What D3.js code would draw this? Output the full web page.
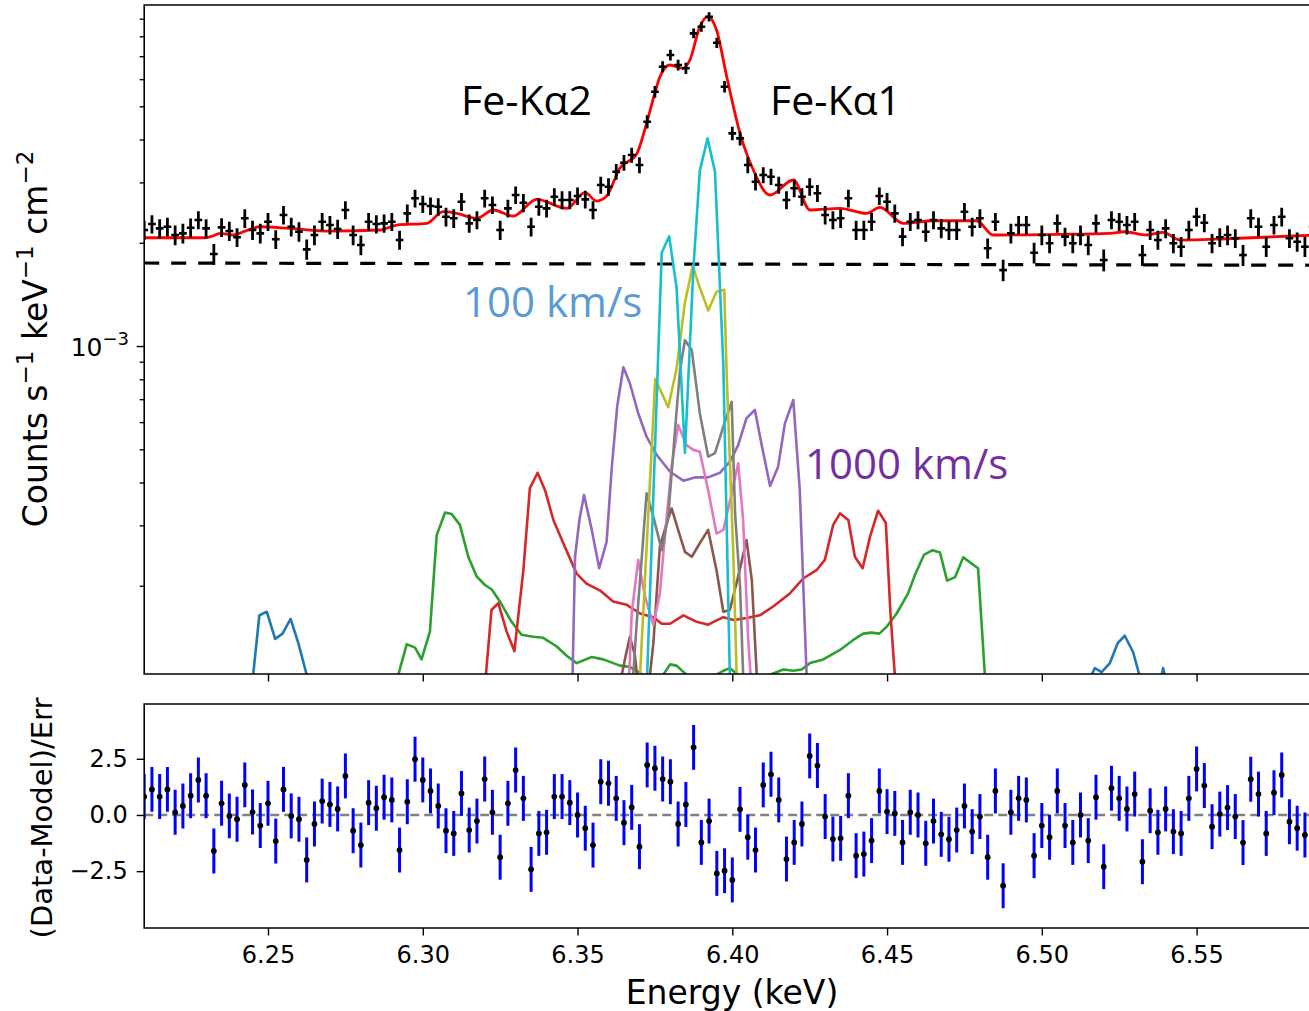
<!DOCTYPE html>
<html>
<head>
<meta charset="utf-8">
<script src="https://cdn.jsdelivr.net/npm/d3@7"></script>
<style>
body { margin: 0; background: #fff; }
</style>
</head>
<body>
<div id="chart"></div>
<script>
// bin centres (keV)
var energy = [
  6.2100, 6.2125, 6.2150, 6.2175, 6.2200, 6.2225, 6.2250, 6.2275, 6.2300, 6.2325,
  6.2350, 6.2375, 6.2400, 6.2425, 6.2450, 6.2475, 6.2500, 6.2525, 6.2550, 6.2575,
  6.2600, 6.2625, 6.2650, 6.2675, 6.2700, 6.2725, 6.2750, 6.2775, 6.2800, 6.2825,
  6.2850, 6.2875, 6.2900, 6.2925, 6.2950, 6.2975, 6.3000, 6.3025, 6.3050, 6.3075,
  6.3100, 6.3125, 6.3150, 6.3175, 6.3200, 6.3225, 6.3250, 6.3275, 6.3300, 6.3325,
  6.3350, 6.3375, 6.3400, 6.3425, 6.3450, 6.3475, 6.3500, 6.3525, 6.3550, 6.3575,
  6.3600, 6.3625, 6.3650, 6.3675, 6.3700, 6.3725, 6.3750, 6.3775, 6.3800, 6.3825,
  6.3850, 6.3875, 6.3900, 6.3925, 6.3950, 6.3975, 6.4000, 6.4025, 6.4050, 6.4075,
  6.4100, 6.4125, 6.4150, 6.4175, 6.4200, 6.4225, 6.4250, 6.4275, 6.4300, 6.4325,
  6.4350, 6.4375, 6.4400, 6.4425, 6.4450, 6.4475, 6.4500, 6.4525, 6.4550, 6.4575,
  6.4600, 6.4625, 6.4650, 6.4675, 6.4700, 6.4725, 6.4750, 6.4775, 6.4800, 6.4825,
  6.4850, 6.4875, 6.4900, 6.4925, 6.4950, 6.4975, 6.5000, 6.5025, 6.5050, 6.5075,
  6.5100, 6.5125, 6.5150, 6.5175, 6.5200, 6.5225, 6.5250, 6.5275, 6.5300, 6.5325,
  6.5350, 6.5375, 6.5400, 6.5425, 6.5450, 6.5475, 6.5500, 6.5525, 6.5550, 6.5575,
  6.5600, 6.5625, 6.5650, 6.5675, 6.5700, 6.5725, 6.5750, 6.5775, 6.5800, 6.5825,
  6.5850, 6.5875];

// spectrum, in units of 1e-3 counts s-1 keV-1 cm-2
var counts = [
  2.179, 2.268, 2.203, 2.227, 2.107, 2.131, 2.213, 2.330, 2.203, 1.854,
  2.218, 2.164, 2.075, 2.357, 2.179, 2.131, 2.304, 2.047, 2.410, 2.227,
  2.154, 1.914, 2.107, 2.304, 2.253, 2.193, 2.492, 2.107, 1.970, 2.304,
  2.268, 2.279, 2.304, 2.037, 2.437, 2.696, 2.594, 2.560, 2.548, 2.382,
  2.357, 2.634, 2.279, 2.330, 2.696, 2.577, 2.179, 2.520, 2.756, 2.617,
  2.227, 2.548, 2.520, 2.725, 2.665, 2.665, 2.738, 2.677, 2.492, 2.948,
  2.914, 3.222, 3.423, 3.605, 3.370, 4.508, 5.513, 6.523, 7.054, 6.597,
  6.453, 8.160, 8.529, 9.123, 7.660, 5.702, 4.170, 4.032, 3.370, 3.013,
  3.151, 3.116, 2.948, 2.665, 2.884, 2.725, 2.914, 2.788, 2.410, 2.330,
  2.357, 2.696, 2.179, 2.179, 2.304, 2.738, 2.634, 2.437, 2.084, 2.304,
  2.330, 2.154, 2.330, 2.203, 2.179, 2.179, 2.464, 2.227, 2.357, 1.927,
  2.304, 1.665, 2.131, 2.253, 2.253, 1.871, 2.107, 1.993, 2.279, 2.084,
  1.993, 2.107, 1.970, 2.279, 1.781, 2.330, 2.304, 2.253, 2.304, 1.842,
  2.179, 2.037, 2.203, 1.993, 1.948, 2.179, 2.382, 2.288, 1.993, 2.075,
  2.107, 2.061, 1.842, 2.357, 2.227, 1.948, 2.253, 2.382, 2.061, 2.014,
  1.948, 2.227];

var countsErr = [
  .14, .14, .14, .14, .14, .14, .14, .14, .14, .13,
  .14, .14, .13, .15, .14, .14, .14, .13, .15, .14,
  .14, .13, .14, .14, .14, .14, .15, .14, .13, .14,
  .14, .14, .14, .13, .15, .16, .15, .15, .15, .15,
  .15, .16, .14, .14, .16, .15, .14, .15, .16, .16,
  .14, .15, .15, .16, .16, .16, .16, .16, .15, .17,
  .17, .17, .18, .18, .18, .20, .22, .24, .25, .24,
  .24, .27, .275, .285, .26, .22, .19, .19, .18, .17,
  .17, .17, .17, .16, .17, .16, .17, .16, .15, .14,
  .15, .16, .14, .14, .14, .16, .16, .15, .13, .14,
  .14, .14, .14, .14, .14, .14, .15, .14, .15, .13,
  .14, .12, .14, .14, .14, .13, .14, .13, .14, .13,
  .13, .14, .13, .14, .13, .14, .14, .14, .14, .13,
  .14, .13, .14, .13, .13, .14, .15, .14, .13, .13,
  .14, .13, .13, .15, .14, .13, .14, .15, .13, .13,
  .13, .14];

// (Data-Model)/Err
var resid = [
  0.82, 1.14, 0.82, 1.14, 0.12, 0.40, 0.86, 1.56, 0.86, -1.60,
  0.52, -0.04, -0.19, 1.34, 0.13, -0.47, 0.52, -1.16, 1.14, -0.04,
  -0.19, -2.00, -0.40, 0.62, 0.47, 0.27, 1.74, -0.70, -1.34, 0.55,
  0.30, 0.79, 0.67, -1.56, 0.59, 2.48, 1.56, 1.07, 0.40, -0.70,
  -0.82, 0.96, -0.67, -0.27, 1.60, 0.12, -1.88, 0.52, 2.00, 0.74,
  -2.42, -0.82, -0.77, 0.82, 0.82, 0.55, 0.00, -0.59, -1.34, 1.48,
  1.41, 0.74, -0.34, 0.34, -1.41, 2.23, 2.08, 1.60, 1.48, -0.40,
  0.47, 3.01, -1.22, -0.27, -2.60, -2.48, -2.89, 0.25, -0.99, -1.56,
  1.34, 1.81, 0.67, -1.96, -1.22, -0.40, 2.63, 2.20, -0.07, -1.07,
  -1.04, 0.86, -1.81, -1.74, -1.14, 1.07, 0.15, 0.07, -1.22, 0.12,
  0.00, -1.26, -0.27, -0.86, -1.08, -0.67, 0.40, -0.74, -0.07, -1.88,
  1.07, -3.15, 0.12, 0.74, 0.67, -1.81, -0.47, -0.99, 1.07, -0.47,
  -1.22, 0.00, -1.14, 0.79, -2.30, 1.19, 0.74, 0.27, 0.93, -2.08,
  0.19, -0.77, 0.27, -0.74, -0.82, 0.74, 2.05, 1.31, -0.52, 0.04,
  0.33, -0.07, -1.23, 1.59, 0.93, -0.82, 0.99, 1.78, -0.30, -0.59,
  -0.89, 1.19];

// total model (red)
var modelE = [6.2100, 6.2296, 6.2322, 6.2345, 6.2387, 6.2426, 6.2474, 6.2571, 6.2700, 6.2862,
  6.2916, 6.3013, 6.3066, 6.3109, 6.3174, 6.3228, 6.3292, 6.3368, 6.3465, 6.3524,
  6.3562, 6.3594, 6.3637, 6.3691, 6.3717, 6.3750, 6.3766, 6.3798, 6.3842, 6.3863,
  6.3895, 6.3922, 6.3949, 6.3982, 6.4025, 6.4068, 6.4122, 6.4197, 6.4251, 6.4348,
  6.4434, 6.4477, 6.4552, 6.4649, 6.4789, 6.4843, 6.5058, 6.5220, 6.5268, 6.5338,
  6.5392, 6.5446, 6.5597, 6.5811, 6.5900];
var modelV = [2.069, 2.069, 2.093, 2.131, 2.107, 2.164, 2.227, 2.203, 2.164, 2.179,
  2.253, 2.279, 2.464, 2.437, 2.357, 2.492, 2.393, 2.677, 2.520, 2.799,
  2.647, 2.738, 3.304, 3.629, 4.264, 5.466, 6.085, 6.597, 6.453, 6.822,
  8.529, 9.123, 8.342, 6.097, 4.170, 3.260, 2.756, 3.048, 2.492, 2.520,
  2.437, 2.537, 2.279, 2.319, 2.319, 2.107, 2.117, 2.131, 2.154, 2.107,
  2.145, 2.037, 2.055, 2.093, 2.107];

// continuum (dashed)
var contE = [6.21, 6.59];
var contV = [1.746, 1.720];

// line components, null = gap
var blueE = [6.2452, 6.2472, 6.2496, 6.2523, 6.2547, 6.2573, 6.2598, 6.2625, null,
  6.5161, 6.5171, 6.5193, 6.5220, 6.5245, 6.5268, 6.5295, 6.5315, null, 6.5387, 6.5392, 6.5397];
var blueV = [0.11, 0.164, 0.168, 0.140, 0.145, 0.160, 0.136, 0.11, null,
  0.11, 0.115, 0.112, 0.119, 0.136, 0.143, 0.128, 0.11, null, 0.11, 0.115, 0.11];

var greenE = [6.2921, 6.2948, 6.2975, 6.2996, 6.3023, 6.3045, 6.3072, 6.3093, 6.3120, 6.3147,
  6.3174, 6.3201, 6.3223, 6.3249, 6.3287, 6.3319, 6.3357, 6.3389, 6.3433, 6.3465,
  6.3497, 6.3546, 6.3583, 6.3637, 6.3669, 6.3712, null, 6.3777, 6.3799, 6.3820, 6.3852, null,
  6.3947, 6.3971, 6.3992, 6.4019, null, 6.4122, 6.4165, 6.4197, 6.4224, 6.4251, 6.4294,
  6.4348, 6.4391, 6.4423, 6.4450, 6.4475, 6.4499, 6.4531, 6.4568, 6.4590, 6.4619,
  6.4647, 6.4671, 6.4694, 6.4720, 6.4746, 6.4794, 6.4816];
var greenV = [0.11, 0.135, 0.132, 0.122, 0.147, 0.281, 0.327, 0.324, 0.301, 0.243,
  0.213, 0.201, 0.195, 0.180, 0.157, 0.144, 0.142, 0.141, 0.133, 0.125,
  0.119, 0.124, 0.122, 0.117, 0.116, 0.11, null, 0.11, 0.118, 0.117, 0.11, null,
  0.11, 0.113, 0.115, 0.11, null, 0.11, 0.114, 0.113, 0.114, 0.119, 0.122,
  0.130, 0.139, 0.145, 0.146, 0.145, 0.152, 0.166, 0.190, 0.215, 0.246,
  0.254, 0.250, 0.207, 0.212, 0.242, 0.225, 0.11];

var redE = [6.3204, 6.3222, 6.3244, 6.3271, 6.3296, 6.3325, 6.3346, 6.3371, 6.3395, 6.3422,
  6.3454, 6.3497, 6.3529, 6.3572, 6.3615, 6.3659, 6.3702, 6.3745, 6.3772, 6.3799,
  6.3842, 6.3885, 6.3922, 6.3971, 6.4004, 6.4046, 6.4089, 6.4132, 6.4186, 6.4229,
  6.4272, 6.4299, 6.4326, 6.4348, 6.4375, 6.4396, 6.4421, 6.4445, 6.4471, 6.4496,
  6.4511, 6.4525];
var redV = [0.11, 0.170, 0.178, 0.147, 0.129, 0.222, 0.385, 0.427, 0.380, 0.311,
  0.266, 0.217, 0.203, 0.194, 0.180, 0.176, 0.166, 0.162, 0.155, 0.155,
  0.164, 0.157, 0.154, 0.162, 0.159, 0.161, 0.164, 0.174, 0.190, 0.210,
  0.222, 0.238, 0.301, 0.325, 0.311, 0.243, 0.225, 0.278, 0.331, 0.305,
  0.166, 0.11];

var purpleE = [6.3484, 6.3492, 6.3506, 6.3521, 6.3546, 6.3570, 6.3594, 6.3610, 6.3628, 6.3648,
  6.3669, 6.3696, 6.3723, 6.3756, 6.3799, 6.3842, 6.3879, 6.3922, 6.3960, 6.3992,
  6.4019, 6.4046, 6.4073, 6.4095, 6.4122, 6.4148, 6.4170, 6.4197, 6.4218, 6.4240];
var purpleV = [0.11, 0.243, 0.311, 0.368, 0.291, 0.225, 0.269, 0.435, 0.665, 0.867,
  0.779, 0.637, 0.544, 0.481, 0.430, 0.405, 0.414, 0.414, 0.427, 0.460,
  0.514, 0.616, 0.651, 0.514, 0.391, 0.445, 0.595, 0.696, 0.380, 0.11];

var brownE = [6.3643, 6.3653, 6.3669, 6.3685, 6.3692, null, 6.3734, 6.3745, 6.3766, 6.3788,
  6.3804, 6.3825, 6.3847, 6.3869, 6.3895, 6.3922, 6.3949, 6.3971, 6.3992, 6.4019,
  6.4046, 6.4063, 6.4079];
var brownV = [0.11, 0.122, 0.142, 0.126, 0.11, null, 0.11, 0.136, 0.260, 0.304,
  0.336, 0.291, 0.251, 0.243, 0.266, 0.291, 0.222, 0.168, 0.170, 0.213,
  0.272, 0.208, 0.11];

var pinkE = [6.3667, 6.3675, 6.3696, 6.3718, 6.3745, 6.3766, 6.3782, 6.3804, 6.3825, 6.3852,
  6.3874, 6.3895, 6.3922, 6.3949, 6.3971, 6.3998, 6.4019, 6.4035, 6.4051, 6.4059];
var pinkV = [0.11, 0.166, 0.238, 0.186, 0.154, 0.190, 0.278, 0.445, 0.589, 0.514,
  0.498, 0.492, 0.380, 0.284, 0.291, 0.372, 0.455, 0.311, 0.142, 0.11];

var grayE = [6.3680, 6.3691, 6.3707, 6.3723, 6.3745, 6.3772, 6.3793, 6.3815, 6.3831, 6.3847,
  6.3869, 6.3895, 6.3922, 6.3944, 6.3971, 6.3998, 6.4009, 6.4025, 6.4035];
var grayV = [0.11, 0.155, 0.238, 0.372, 0.318, 0.254, 0.318, 0.569, 0.851, 1.04,
  0.974, 0.637, 0.476, 0.487, 0.582, 0.688, 0.325, 0.199, 0.11];

var oliveE = [6.3702, 6.3751, 6.3793, 6.3820, 6.3847, 6.3872, 6.3895, 6.3922, 6.3949, 6.3974,
  6.3982, 6.4003, 6.4014];
var oliveV = [0.11, 0.801, 0.663, 0.859, 1.34, 1.71, 1.48, 1.27, 1.44, 1.46,
  0.820, 0.252, 0.11];

var cyanE = [6.3725, 6.3772, 6.3796, 6.3820, 6.3847, 6.3874, 6.3895, 6.3920, 6.3944, 6.3971, 6.3992];
var cyanV = [0.11, 1.87, 2.09, 1.48, 0.488, 1.67, 3.24, 4.03, 3.23, 0.880, 0.11];

var xTicks = [6.25, 6.30, 6.35, 6.40, 6.45, 6.50, 6.55];
var resTicks = [-2.5, 0, 2.5];
var minorTicks = [2e-4, 3e-4, 4e-4, 5e-4, 6e-4, 7e-4, 8e-4, 9e-4,
                  2e-3, 3e-3, 4e-3, 5e-3, 6e-3, 7e-3, 8e-3, 9e-3];

var W = 1309, H = 1011;
var binHalf = 0.00125;
var font = "DejaVu Sans, sans-serif";

var svg = d3.select("#chart")
    .append("svg")
    .attr("width", W)
    .attr("height", H);

// scales
var x = d3.scaleLinear().domain([6.21, 6.59]).range([144.2, 1320.4]);
var yTop = d3.scaleLog().domain([1.106e-4, 9.87e-3]).range([674, 5]);
var yRes = d3.scaleLinear().domain([-5.03, 4.94]).range([928, 704]);

var defs = svg.append("defs");
defs.append("clipPath").attr("id", "clipTop").append("rect")
    .attr("x", x.range()[0]).attr("y", yTop.range()[1])
    .attr("width", x.range()[1] - x.range()[0])
    .attr("height", yTop.range()[0] - yTop.range()[1]);
defs.append("clipPath").attr("id", "clipRes").append("rect")
    .attr("x", x.range()[0]).attr("y", yRes.range()[1])
    .attr("width", x.range()[1] - x.range()[0])
    .attr("height", yRes.range()[0] - yRes.range()[1]);

var spec = energy.map(function(e, i) {
    return {e: e, v: counts[i] * 1e-3, err: countsErr[i] * 1e-3, r: resid[i]};
});

// ---------- top panel ----------
var gTop = svg.append("g").attr("clip-path", "url(#clipTop)");

var lineTop = d3.line()
    .defined(function(d) { return d.e != null; })
    .x(function(d) { return x(d.e); })
    .y(function(d) { return yTop(d.v * 1e-3); });

// model
gTop.append("path")
    .datum(modelE.map(function(e, i) { return {e: e, v: modelV[i]}; }))
    .attr("fill", "none")
    .attr("stroke", "#ff0000")
    .attr("stroke-width", 2.8)
    .attr("stroke-linejoin", "round")
    .attr("d", lineTop.curve(d3.curveMonotoneX));
lineTop.curve(d3.curveLinear);

// data crosses
gTop.selectAll(".hbar")
    .data(spec)
    .enter()
    .append("line")
    .attr("x1", function(d) { return x(d.e - binHalf); })
    .attr("x2", function(d) { return x(d.e + binHalf); })
    .attr("y1", function(d) { return yTop(d.v); })
    .attr("y2", function(d) { return yTop(d.v); })
    .attr("stroke", "black")
    .attr("stroke-width", 2.6);
gTop.selectAll(".vbar")
    .data(spec)
    .enter()
    .append("line")
    .attr("x1", function(d) { return x(d.e); })
    .attr("x2", function(d) { return x(d.e); })
    .attr("y1", function(d) { return yTop(d.v - d.err); })
    .attr("y2", function(d) { return yTop(d.v + d.err); })
    .attr("stroke", "black")
    .attr("stroke-width", 2.8);

// continuum
gTop.append("path")
    .datum(contE.map(function(e, i) { return {e: e, v: contV[i]}; }))
    .attr("fill", "none")
    .attr("stroke", "black")
    .attr("stroke-width", 3.2)
    .attr("stroke-dasharray", "15,12")
    .attr("d", lineTop);

// components
var comps = [
    {c: "#1f77b4", e: blueE, v: blueV},
    {c: "#2ca02c", e: greenE, v: greenV},
    {c: "#d62728", e: redE, v: redV},
    {c: "#9467bd", e: purpleE, v: purpleV},
    {c: "#8c564b", e: brownE, v: brownV},
    {c: "#e377c2", e: pinkE, v: pinkV},
    {c: "#7f7f7f", e: grayE, v: grayV},
    {c: "#bcbd22", e: oliveE, v: oliveV},
    {c: "#17becf", e: cyanE, v: cyanV}
];
comps.forEach(function(comp) {
    gTop.append("path")
        .datum(comp.e.map(function(e, i) { return {e: e, v: comp.v[i]}; }))
        .attr("fill", "none")
        .attr("stroke", comp.c)
        .attr("stroke-width", 2.6)
        .attr("stroke-linejoin", "round")
        .attr("d", lineTop);
});

// axes top
var gx1 = svg.append("g")
    .attr("transform", "translate(0," + yTop.range()[0] + ")")
    .call(d3.axisBottom(x).tickValues(xTicks).tickFormat("").tickSize(7.5).tickSizeOuter(0));
gx1.select(".domain").remove();

var gMinor = svg.append("g")
    .attr("transform", "translate(" + x.range()[0] + ",0)")
    .call(d3.axisLeft(yTop).tickValues(minorTicks).tickFormat("").tickSize(4.5).tickSizeOuter(0));
gMinor.select(".domain").remove();
var gMajor = svg.append("g")
    .attr("transform", "translate(" + x.range()[0] + ",0)")
    .call(d3.axisLeft(yTop).tickValues([1e-3]).tickFormat("").tickSize(7.5).tickSizeOuter(0));
gMajor.select(".domain").remove();

var lab3 = svg.append("text")
    .attr("x", 129)
    .attr("y", yTop(1e-3) + 10)
    .attr("text-anchor", "end")
    .style("font-family", font)
    .style("font-size", "25px");
lab3.append("tspan").text("10");
lab3.append("tspan").attr("dy", -11).style("font-size", "18px").text("\u22123");

// spines top
svg.append("path")
    .attr("d", "M1320," + yTop.range()[1] + "H" + x.range()[0] + "V" + yTop.range()[0] + "H1320")
    .attr("fill", "none")
    .attr("stroke", "black")
    .attr("stroke-width", 1.6);

// ---------- residual panel ----------
var gRes = svg.append("g").attr("clip-path", "url(#clipRes)");

gRes.append("line")
    .attr("x1", x.range()[0]).attr("x2", x.range()[1])
    .attr("y1", yRes(0)).attr("y2", yRes(0))
    .attr("stroke", "#808080")
    .attr("stroke-width", 2.4)
    .attr("stroke-dasharray", "9,5");

gRes.selectAll(".rbar")
    .data(spec)
    .enter()
    .append("line")
    .attr("x1", function(d) { return x(d.e); })
    .attr("x2", function(d) { return x(d.e); })
    .attr("y1", function(d) { return yRes(d.r - 1); })
    .attr("y2", function(d) { return yRes(d.r + 1); })
    .attr("stroke", "#0000ff")
    .attr("stroke-width", 3);
gRes.selectAll(".rdot")
    .data(spec)
    .enter()
    .append("circle")
    .attr("cx", function(d) { return x(d.e); })
    .attr("cy", function(d) { return yRes(d.r); })
    .attr("r", 2.9)
    .attr("fill", "black");

var gx2 = svg.append("g")
    .attr("transform", "translate(0," + yRes.range()[0] + ")")
    .call(d3.axisBottom(x).tickValues(xTicks).tickFormat(d3.format(".2f"))
        .tickSize(7.5).tickPadding(10).tickSizeOuter(0));
gx2.select(".domain").remove();

var gy2 = svg.append("g")
    .attr("transform", "translate(" + x.range()[0] + ",0)")
    .call(d3.axisLeft(yRes).tickValues(resTicks)
        .tickFormat(function(d) { return d3.format(".1f")(d).replace("-", "\u2212"); })
        .tickSize(7.5).tickPadding(9).tickSizeOuter(0));
gy2.select(".domain").remove();

svg.append("path")
    .attr("d", "M1320," + yRes.range()[1] + "H" + x.range()[0] + "V" + yRes.range()[0] + "H1320")
    .attr("fill", "none")
    .attr("stroke", "black")
    .attr("stroke-width", 1.6);

svg.selectAll(".tick line").attr("stroke", "black").attr("stroke-width", 1.4);
svg.selectAll(".tick text")
    .attr("fill", "black")
    .style("font-family", font)
    .style("font-size", "24px");

// axis labels
svg.append("text")
    .attr("x", 732)
    .attr("y", 1004)
    .attr("text-anchor", "middle")
    .style("font-family", font)
    .style("font-size", "33px")
    .text("Energy (keV)");

var ylab = svg.append("text")
    .attr("transform", "translate(46.7,339) rotate(-90)")
    .attr("text-anchor", "middle")
    .style("font-family", font)
    .style("font-size", "33px");
ylab.append("tspan").text("Counts s");
ylab.append("tspan").attr("dy", -14).style("font-size", "23px").text("\u22121");
ylab.append("tspan").attr("dy", 14).text(" keV");
ylab.append("tspan").attr("dy", -14).style("font-size", "23px").text("\u22121");
ylab.append("tspan").attr("dy", 14).text(" cm");
ylab.append("tspan").attr("dy", -14).style("font-size", "23px").text("\u22122");

svg.append("text")
    .attr("transform", "translate(51.7,818) rotate(-90)")
    .attr("text-anchor", "middle")
    .style("font-family", font)
    .style("font-size", "29px")
    .text("(Data-Model)/Err");

// annotations
var notes = [
    {t: "Fe-K\u03b12", x: 461, y: 115, c: "black", s: 41},
    {t: "Fe-K\u03b11", x: 770, y: 115, c: "black", s: 41},
    {t: "100 km/s", x: 463, y: 317, c: "#5b9bd5", s: 42},
    {t: "1000 km/s", x: 805, y: 479, c: "#7030a0", s: 42}
];
svg.selectAll(".note")
    .data(notes)
    .enter()
    .append("text")
    .attr("x", function(d) { return d.x; })
    .attr("y", function(d) { return d.y; })
    .attr("fill", function(d) { return d.c; })
    .style("font-family", "Open Sans, sans-serif")
    .style("font-size", function(d) { return d.s + "px"; })
    .text(function(d) { return d.t; });
</script>
</body>
</html>
